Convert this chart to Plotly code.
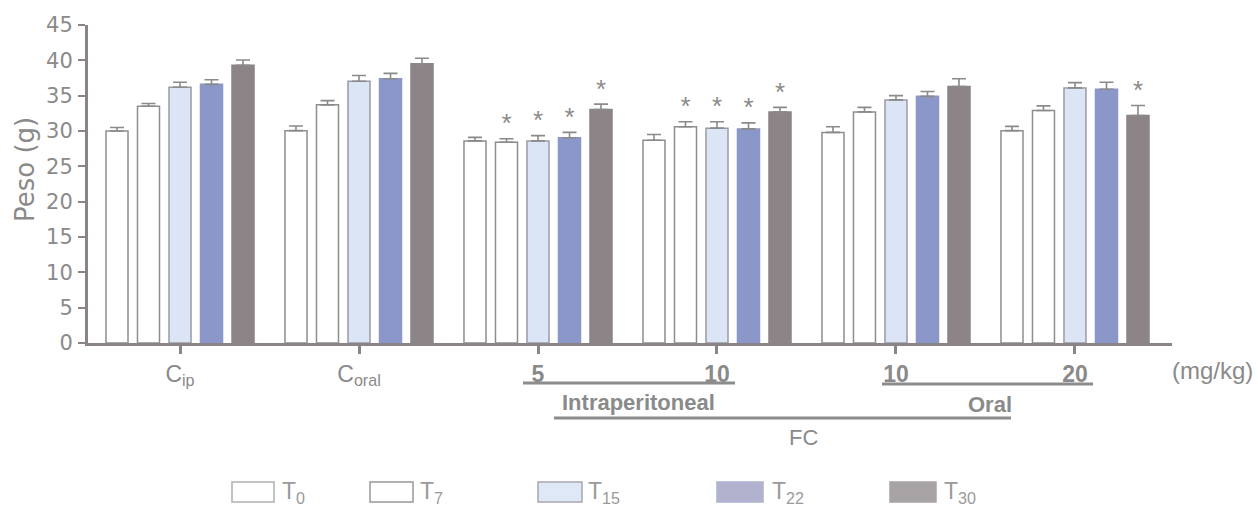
import plotly.graph_objects as go

# ---- data ----
groups = ["C<sub>ip</sub>", "C<sub>oral</sub>", "<b>5</b>", "<b>10</b>", "<b>10</b>", "<b>20</b>"]
series_names = ["T<sub>0</sub>", "T<sub>7</sub>", "T<sub>15</sub>", "T<sub>22</sub>", "T<sub>30</sub>"]
T0 = [30.0, 30.05, 28.6, 28.7, 29.8, 30.05]
T0_err = [0.5, 0.65, 0.5, 0.8, 0.8, 0.6]
T7 = [33.5, 33.7, 28.4, 30.6, 32.7, 32.9]
T7_err = [0.4, 0.6, 0.5, 0.7, 0.65, 0.65]
T15 = [36.2, 37.05, 28.6, 30.4, 34.4, 36.1]
T15_err = [0.7, 0.8, 0.75, 0.9, 0.6, 0.75]
T22 = [36.6, 37.4, 29.05, 30.3, 34.9, 35.9]
T22_err = [0.65, 0.75, 0.75, 0.85, 0.7, 1.0]
T30 = [39.3, 39.5, 33.05, 32.7, 36.3, 32.2]
T30_err = [0.75, 0.8, 0.75, 0.65, 1.1, 1.4]
# significance marks (1 = asterisk)
T0_sig = [0, 0, 0, 0, 0, 0]
T7_sig = [0, 0, 1, 1, 0, 0]
T15_sig = [0, 0, 1, 1, 0, 0]
T22_sig = [0, 0, 1, 1, 0, 0]
T30_sig = [0, 0, 1, 1, 0, 1]
y_ticks = [0, 5, 10, 15, 20, 25, 30, 35, 40, 45]

values = [T0, T7, T15, T22, T30]
errors = [T0_err, T7_err, T15_err, T22_err, T30_err]
sigs = [T0_sig, T7_sig, T15_sig, T22_sig, T30_sig]

# ---- style ----
fills = ["#ffffff", "#ffffff", "#dce5f5", "#8b97c9", "#8c8486"]
edges = ["#8e8e8e", "#8e8e8e", "#9a9aa6", "#8b97c9", "#8c8486"]
leg_fills = ["#ffffff", "#ffffff", "#dfe8f6", "#b0b2ce", "#a8a4a5"]
leg_edges = ["#b0b0b0", "#999999", "#a8a8b0", "#b0b2ce", "#a8a4a5"]
AX = "#8a8486"
TXT = "#8a8a8a"
SLOT = 0.176
BARW = 0.123

W, H = 1258, 513
L, R, T, B = 88, 86, 25, 170
PW, PH = W - L - R, H - T - B


def px(x):
    return (x - L) / PW


def py(y):
    return (H - B - y) / PH


fig = go.Figure()
gx = list(range(len(groups)))
for k in range(5):
    xs = [g + (k - 2) * SLOT for g in gx]
    fig.add_trace(go.Bar(
        x=xs, y=values[k], width=BARW, name=series_names[k],
        marker=dict(color=fills[k], line=dict(color=edges[k], width=1.5)),
        error_y=dict(type="data", symmetric=False, array=errors[k],
                     arrayminus=[0] * len(gx), color="#8a8a8a",
                     thickness=1.6, width=7),
        showlegend=False,
    ))
    sx = [x for x, s in zip(xs, sigs[k]) if s]
    sy = [v + e for v, e, s in zip(values[k], errors[k], sigs[k]) if s]
    if sx:
        fig.add_trace(go.Scatter(
            x=sx, y=sy, mode="text", text=["*"] * len(sx),
            textposition="top center",
            textfont=dict(family="Liberation Sans", size=26, color=TXT),
            showlegend=False, hoverinfo="skip", cliponaxis=False,
        ))

fig.update_layout(
    width=W, height=H,
    margin=dict(l=L, r=R, t=T, b=B, pad=0),
    paper_bgcolor="white", plot_bgcolor="white",
    barmode="overlay",
    font=dict(family="Liberation Sans", color=TXT),
    xaxis=dict(
        range=[-0.514, 5.542], tickmode="array", tickvals=gx, ticktext=groups,
        showline=True, linecolor=AX, linewidth=3, ticks="outside",
        ticklen=8, tickwidth=3, tickcolor=AX, showgrid=False, zeroline=False,
        tickfont=dict(family="Liberation Sans", size=23, color=TXT),
        ticklabelstandoff=0,
    ),
    yaxis=dict(
        range=[0, 45], tickmode="array", tickvals=y_ticks,
        showline=True, linecolor=AX, linewidth=3, ticks="outside",
        ticklen=7, tickwidth=2, tickcolor=AX, showgrid=False, zeroline=False,
        tickfont=dict(family="DejaVu Sans", size=21, color=TXT),
        ticklabelstandoff=1,
    ),
)

# y-axis title
fig.add_annotation(text="Peso (g)", xref="paper", yref="paper",
                   x=px(25), y=py(170), textangle=-90, showarrow=False,
                   xanchor="center", yanchor="middle",
                   font=dict(family="DejaVu Sans", size=26, color=TXT))

# group brackets below axis
lines = [(523, 735, 383), (882, 1093, 384), (554, 1011, 418)]
for x0, x1, y in lines:
    fig.add_shape(type="line", xref="paper", yref="paper",
                  x0=px(x0), x1=px(x1), y0=py(y), y1=py(y),
                  line=dict(color="#8c8c8c", width=3))

texts = [
    ("<b>Intraperitoneal</b>", 638, 402, 22),
    ("<b>Oral</b>", 990, 404, 22),
    ("FC", 803, 437, 22),
    ("(mg/kg)", 1212, 370, 24),
]
for t, x, y, s in texts:
    fig.add_annotation(text=t, xref="paper", yref="paper", x=px(x), y=py(y),
                       showarrow=False, xanchor="center", yanchor="middle",
                       font=dict(family="Liberation Sans", size=s, color=TXT))

# legend drawn below the plot
leg_boxes = [(232, 274), (370, 413), (538, 582), (717, 763), (890, 936)]
leg_text_x = [280, 418, 586, 770, 942]
for k in range(5):
    x0, x1 = leg_boxes[k]
    fig.add_shape(type="rect", xref="paper", yref="paper",
                  x0=px(x0), x1=px(x1), y0=py(502), y1=py(482),
                  fillcolor=leg_fills[k], line=dict(color=leg_edges[k], width=1.5))
    fig.add_annotation(text=series_names[k], xref="paper", yref="paper",
                       x=px(leg_text_x[k]), y=py(492), showarrow=False,
                       xanchor="left", yanchor="middle",
                       font=dict(family="Liberation Sans", size=23, color="#9a9a9a"))

fig.write_html("out.html")
